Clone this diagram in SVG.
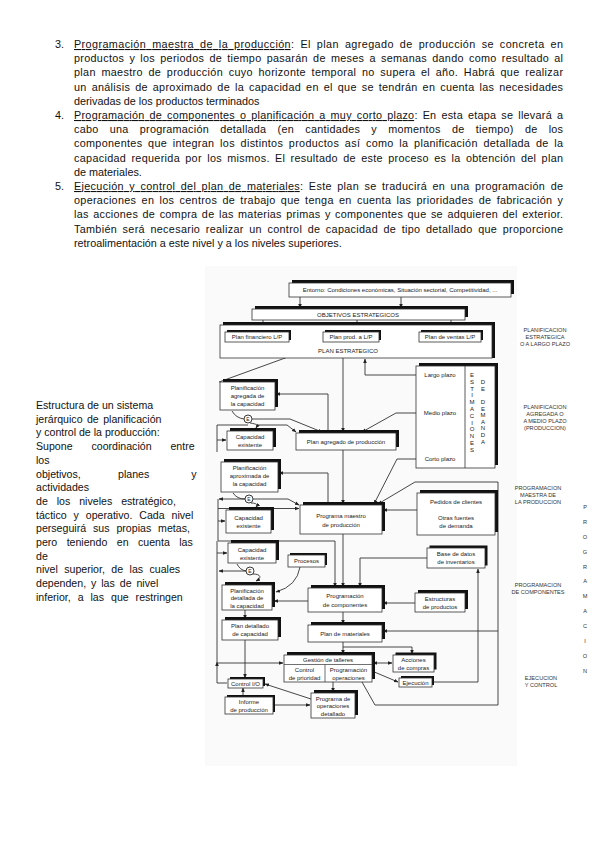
<svg xmlns="http://www.w3.org/2000/svg" width="599" height="848" viewBox="0 0 599 848">
<style>
.b{font-family:"Liberation Sans",Arial,sans-serif;font-size:10.8px;fill:#111}
.l{font-family:"Liberation Sans",Arial,sans-serif;font-size:10.6px;fill:#111}
.d{font-family:"Liberation Sans",Arial,sans-serif;font-size:6px;fill:#222;text-anchor:middle}
.r{font-family:"Liberation Sans",Arial,sans-serif;font-size:5.6px;fill:#333;text-anchor:middle}
.box{fill:#fff;stroke:#333;stroke-width:0.8}
.sh{fill:#111}
.ln{fill:none;stroke:#333;stroke-width:0.9}
.a{marker-end:url(#ah)}
.aa{marker-end:url(#ah);marker-start:url(#ah)}
</style>
<defs>
<marker id="ah" viewBox="0 0 10 10" refX="9" refY="5" markerWidth="4.5" markerHeight="4.5" markerUnits="userSpaceOnUse" orient="auto-start-reverse"><path d="M0,1 L10,5 L0,9z" fill="#222"/></marker>
</defs>
<rect width="599" height="848" fill="#fff"/>

<g id="texto-superior">
<text class="b" x="55" y="48">3.</text>
<text class="b" x="74" y="48" word-spacing="2.6" textLength="489" lengthAdjust="spacing"><tspan text-decoration="underline">Programación maestra de la producción</tspan>: El plan agregado de producción se concreta en</text>
<text class="b" x="74" y="62.2" word-spacing="1.9" textLength="489" lengthAdjust="spacing">productos y los periodos de tiempo pasarán de meses a semanas dando como resultado al</text>
<text class="b" x="74" y="76.4" word-spacing="2.3" textLength="489" lengthAdjust="spacing">plan maestro de producción cuyo horizonte temporal no supera el año. Habrá que realizar</text>
<text class="b" x="74" y="90.6" word-spacing="1.7" textLength="489" lengthAdjust="spacing">un análisis de aproximado de la capacidad en el que se tendrán en cuenta las necesidades</text>
<text class="b" x="74" y="104.8">derivadas de los productos terminados</text>
<text class="b" x="55" y="119">4.</text>
<text class="b" x="74" y="119" word-spacing="1.7" textLength="489" lengthAdjust="spacing"><tspan text-decoration="underline">Programación de componentes o planificación a muy corto plazo</tspan>: En esta etapa se llevará a</text>
<text class="b" x="74" y="133.2" word-spacing="8" textLength="489" lengthAdjust="spacing">cabo una programación detallada (en cantidades y momentos de tiempo) de los</text>
<text class="b" x="74" y="147.4" word-spacing="2.4" textLength="489" lengthAdjust="spacing">componentes que integran los distintos productos así como la planificación detallada de la</text>
<text class="b" x="74" y="161.6" word-spacing="2" textLength="489" lengthAdjust="spacing">capacidad requerida por los mismos. El resultado de este proceso es la obtención del plan</text>
<text class="b" x="74" y="175.8">de materiales.</text>
<text class="b" x="55" y="190">5.</text>
<text class="b" x="74" y="190" word-spacing="2.1" textLength="489" lengthAdjust="spacing"><tspan text-decoration="underline">Ejecución y control del plan de materiales</tspan>: Este plan se traducirá en una programación de</text>
<text class="b" x="74" y="204.2" word-spacing="2" textLength="489" lengthAdjust="spacing">operaciones en los centros de trabajo que tenga en cuenta las prioridades de fabricación y</text>
<text class="b" x="74" y="218.4" word-spacing="1.2" textLength="489" lengthAdjust="spacing">las acciones de compra de las materias primas y componentes que se adquieren del exterior.</text>
<text class="b" x="74" y="232.6" word-spacing="2.2" textLength="489" lengthAdjust="spacing">También será necesario realizar un control de capacidad de tipo detallado que proporcione</text>
<text class="b" x="74" y="246.8">retroalimentación a este nivel y a los niveles superiores.</text>
</g>

<g id="texto-izquierdo">
<text class="l" x="36" y="409">Estructura de un sistema</text>
<text class="l" x="36" y="422.7" word-spacing="1.5">jerárquico de planificación</text>
<text class="l" x="36" y="436.4">y control de la producción:</text>
<text class="l" x="36" y="450.1" word-spacing="16">Supone coordinación entre</text>
<text class="l" x="36" y="463.8">los</text>
<text class="l" x="36" y="477.5">objetivos,</text><text class="l" x="118" y="477.5">planes</text><text class="l" x="196.5" y="477.5" text-anchor="end">y</text>
<text class="l" x="36" y="491.2">actividades</text>
<text class="l" x="36" y="504.9" word-spacing="6">de los niveles estratégico,</text>
<text class="l" x="36" y="518.6" word-spacing="4">táctico y operativo. Cada nivel</text>
<text class="l" x="36" y="532.3" word-spacing="4">perseguirá sus propias metas,</text>
<text class="l" x="36" y="546" word-spacing="6.5">pero teniendo en cuenta las</text>
<text class="l" x="36" y="559.7">de</text>
<text class="l" x="36" y="573.4" word-spacing="3.5">nivel superior, de las cuales</text>
<text class="l" x="36" y="587.1" word-spacing="2">dependen, y las de nivel</text>
<text class="l" x="36" y="600.8" word-spacing="4">inferior, a las que restringen</text>
</g>

<rect x="205" y="266" width="312" height="500" fill="#fafafa"/>

<g id="conectores">
<path class="ln a" d="M300,297 V308"/>
<path class="ln a" d="M401,297 V308"/>
<path class="ln a" d="M263,320 V331"/>
<path class="ln a" d="M357,320 V331"/>
<path class="ln a" d="M451,320 V331"/>
<path class="ln a" d="M323,335.6 H290"/>
<path class="ln a" d="M290,339.4 H322"/>
<path class="ln a" d="M418,335.6 H380"/>
<path class="ln a" d="M380,339.4 H418"/>
<path class="ln a" d="M219,382 L321,345"/>
<path class="ln a" d="M416,375 H365 V359"/>
<path class="ln a" d="M343,358 V432"/>
<path class="ln a" d="M416,413 H396 L362,432"/>
<path class="ln a" d="M416,459 H397 L374,504"/>
<path class="ln a" d="M328,433 V394 H276"/>
<path class="ln" d="M232,411 Q236,418 244,419"/>
<path class="ln a" d="M252,419 H290 L322,432"/>
<path class="ln a" d="M250,423 C257,424 258,425 256,428"/>
<path class="ln a" d="M258,425 H287 L296,432"/>
<path class="ln" d="M248,425 H217 V452"/>
<path class="ln a" d="M217,440 H226"/>
<path class="ln a" d="M328,505 V473 H279"/>
<path class="ln a" d="M343,450 V504"/>
<path class="ln" d="M233,493 Q237,499 245,499"/>
<path class="ln a" d="M245,499 H219"/>
<path class="ln a" d="M253,499 H288 L299,505"/>
<path class="ln a" d="M251,503 C257,503 258,505 256,507"/>
<path class="ln" d="M218,499 V541 H335"/>
<path class="ln a" d="M218,508.5 H299"/>
<path class="ln a" d="M218,521 H225"/>
<path class="ln a" d="M335,541 V587"/>
<path class="ln a" d="M343,534 V587"/>
<path class="ln a" d="M427,558 H360 V587"/>
<path class="ln a" d="M417,510 H383"/>
<path class="ln a" d="M362,682 L375,705 H498 V482 H415 L378,504"/>
<path class="ln a" d="M498,631 H383"/>
<path class="ln a" d="M432,682 H478 V569"/>
<path class="ln a" d="M372,671 L398,682"/>
<path class="ln aa" d="M373,663 H392"/>
<path class="ln" d="M343,642 V647 H412"/>
<path class="ln a" d="M343,647 V654"/>
<path class="ln a" d="M412,647 V654"/>
<path class="ln a" d="M343,612 V624"/>
<path class="ln a" d="M308,601 H274"/>
<path class="ln a" d="M415,603 H383"/>
<path class="ln a" d="M300,567 Q297,586 276,592"/>
<path class="ln" d="M237,564 Q240,570 246,571"/>
<path class="ln a" d="M246,571 H219"/>
<path class="ln a" d="M253,574 C261,574 262,578 256,581"/>
<path class="ln" d="M217,662 V541"/>
<path class="ln a" d="M227,683 H217 V662"/>
<path class="ln a" d="M217,553 H227"/>
<path class="ln a" d="M217,663 H283"/>
<path class="ln a" d="M245,640 V678"/>
<path class="ln a" d="M245,610 V619"/>
<path class="ln a" d="M243,697 V688"/>
<path class="ln a" d="M273,705 H310"/>
<path class="ln a" d="M311,699 L265,684"/>
<path class="ln a" d="M333,682 V692"/>
</g>

<g id="e1"><circle cx="248" cy="419" r="4" fill="#fff" stroke="#222" stroke-width="0.9"/><text class="d" x="248" y="421" style="font-size:5px">E</text></g>
<g id="e2"><circle cx="249" cy="499" r="4" fill="#fff" stroke="#222" stroke-width="0.9"/><text class="d" x="249" y="501" style="font-size:5px">E</text></g>
<g id="e3"><circle cx="250" cy="571" r="4" fill="#fff" stroke="#222" stroke-width="0.9"/><text class="d" x="250" y="573" style="font-size:5px">E</text></g>

<g id="entorno"><rect class="sh" x="292" y="280" width="222" height="14"/><rect class="box" x="289" y="283" width="222" height="14"/><text class="d" x="400" y="292.3">Entorno: Condiciones económicas, Situación sectorial, Competitividad, ...</text></g>
<g id="objetivos"><rect class="sh" x="255" y="306" width="213" height="11"/><rect class="box" x="252" y="309" width="213" height="11"/><text class="d" x="358" y="316.7">OBJETIVOS ESTRATEGICOS</text></g>
<g id="plan-estrategico"><rect class="sh" x="223" y="322" width="272" height="36"/><rect class="box" x="220" y="325" width="272" height="33"/><text class="d" x="348" y="353">PLAN ESTRATEGICO</text></g>
<g id="plan-financiero"><rect class="sh" x="227" y="330" width="64" height="10"/><rect class="box" x="225" y="332" width="64" height="10"/><text class="d" x="257" y="339.2">Plan financiero L/P</text></g>
<g id="plan-prod"><rect class="sh" x="325" y="330" width="56" height="10"/><rect class="box" x="323" y="332" width="56" height="10"/><text class="d" x="351" y="339.2">Plan prod. a L/P</text></g>
<g id="plan-ventas"><rect class="sh" x="421" y="330" width="62" height="10"/><rect class="box" x="419" y="332" width="62" height="10"/><text class="d" x="450" y="339.2">Plan de ventas L/P</text></g>

<g id="estimaciones"><rect class="sh" x="419" y="363" width="79" height="102"/><rect class="box" x="416" y="366" width="79" height="102"/>
<line x1="465" y1="366" x2="465" y2="468" stroke="#333" stroke-width="0.8"/>
<text class="d" x="440" y="377">Largo plazo</text><text class="d" x="440" y="415">Medio plazo</text><text class="d" x="440" y="461">Corto plazo</text>
<text class="d" x="472" y="377">E</text><text class="d" x="472" y="383.8">S</text><text class="d" x="472" y="390.6">T</text><text class="d" x="472" y="397.4">I</text><text class="d" x="472" y="404.2">M</text><text class="d" x="472" y="411">A</text><text class="d" x="472" y="417.8">C</text><text class="d" x="472" y="424.6">I</text><text class="d" x="472" y="431.4">O</text><text class="d" x="472" y="438.2">N</text><text class="d" x="472" y="445">E</text><text class="d" x="472" y="451.8">S</text>
<text class="d" x="483" y="384">D</text><text class="d" x="483" y="390.6">E</text><text class="d" x="483" y="404">D</text><text class="d" x="483" y="410.6">E</text><text class="d" x="483" y="417.2">M</text><text class="d" x="483" y="423.8">A</text><text class="d" x="483" y="430.4">N</text><text class="d" x="483" y="437">D</text><text class="d" x="483" y="443.6">A</text>
</g>

<g id="planif-agregada"><rect class="sh" x="223" y="379" width="55" height="28"/><rect class="box" x="220" y="382" width="55" height="28"/><text class="d" x="247.5" y="390">Planificación</text><text class="d" x="247.5" y="398">agregada de</text><text class="d" x="247.5" y="406">la capacidad</text></g>
<g id="plan-agregado"><rect class="sh" x="299" y="430" width="100" height="17"/><rect class="box" x="296" y="433" width="100" height="17"/><text class="d" x="346" y="443.8">Plan agregado de producción</text></g>
<g id="cap-existente-1"><rect class="sh" x="230" y="428" width="46" height="19"/><rect class="box" x="227" y="431" width="46" height="19"/><text class="d" x="250" y="439">Capacidad</text><text class="d" x="250" y="447">existente</text></g>
<g id="planif-aproximada"><rect class="sh" x="224" y="459" width="57" height="30"/><rect class="box" x="221" y="462" width="57" height="30"/><text class="d" x="249.5" y="470">Planificación</text><text class="d" x="249.5" y="478">aproximada de</text><text class="d" x="249.5" y="486">la capacidad</text></g>
<g id="cap-existente-2"><rect class="sh" x="229" y="507" width="45" height="23"/><rect class="box" x="226" y="510" width="45" height="23"/><text class="d" x="248.5" y="519.5">Capacidad</text><text class="d" x="248.5" y="528">existente</text></g>
<g id="programa-maestro"><rect class="sh" x="303" y="502" width="82" height="29"/><rect class="box" x="300" y="505" width="82" height="29"/><text class="d" x="341" y="518">Programa maestro</text><text class="d" x="341" y="526.5">de producción</text></g>
<g id="pedidos"><rect class="sh" x="420" y="490" width="78" height="42"/><rect class="box" x="417" y="493" width="78" height="42"/><text class="d" x="456" y="504">Pedidos de clientes</text><text class="d" x="456" y="520">Otras fuentes</text><text class="d" x="456" y="528">de demanda</text></g>
<g id="base-datos"><rect class="sh" x="429.5" y="545.5" width="58" height="20"/><rect class="box" x="427" y="548" width="58" height="20"/><text class="d" x="456" y="556">Base de datos</text><text class="d" x="456" y="564">de inventarios</text></g>
<g id="procesos"><rect class="sh" x="290" y="553" width="37" height="12"/><rect class="box" x="288" y="555" width="37" height="12"/><text class="d" x="306.5" y="563">Procesos</text></g>
<g id="cap-existente-3"><rect class="sh" x="231" y="540" width="48" height="20"/><rect class="box" x="228" y="543" width="48" height="20"/><text class="d" x="252" y="551.5">Capacidad</text><text class="d" x="252" y="559.5">existente</text></g>
<g id="planif-detallada"><rect class="sh" x="225" y="582" width="50" height="25"/><rect class="box" x="222" y="585" width="50" height="25"/><text class="d" x="247" y="592.5">Planificación</text><text class="d" x="247" y="600">detallada de</text><text class="d" x="247" y="607.5">la capacidad</text></g>
<g id="programacion-componentes"><rect class="sh" x="311" y="585" width="74" height="24"/><rect class="box" x="308" y="588" width="74" height="24"/><text class="d" x="345" y="598">Programación</text><text class="d" x="345" y="607">de componentes</text></g>
<g id="estructuras"><rect class="sh" x="418" y="590" width="50" height="19"/><rect class="box" x="415" y="593" width="50" height="19"/><text class="d" x="440" y="601">Estructuras</text><text class="d" x="440" y="609">de productos</text></g>
<g id="plan-detallado"><rect class="sh" x="225" y="617" width="56" height="20"/><rect class="box" x="222" y="620" width="56" height="20"/><text class="d" x="250" y="628">Plan detallado</text><text class="d" x="250" y="636">de capacidad</text></g>
<g id="plan-materiales"><rect class="sh" x="311" y="622" width="74" height="17"/><rect class="box" x="308" y="625" width="74" height="17"/><text class="d" x="345" y="635.5">Plan de materiales</text></g>
<g id="gestion-talleres"><rect class="sh" x="287" y="652" width="88" height="27"/><rect class="box" x="284" y="655" width="88" height="27"/>
<line x1="284" y1="664.5" x2="372" y2="664.5" stroke="#333" stroke-width="0.7"/><line x1="325" y1="664.5" x2="325" y2="682" stroke="#333" stroke-width="0.7"/>
<text class="d" x="328" y="662">Gestión de talleres</text><text class="d" x="304.5" y="671.5">Control</text><text class="d" x="304.5" y="679.5">de prioridad</text><text class="d" x="348.5" y="671.5">Programación</text><text class="d" x="348.5" y="679.5">operaciones</text></g>
<g id="acciones-compras"><rect class="sh" x="395.5" y="652.5" width="41" height="17"/><rect class="box" x="393" y="655" width="41" height="17"/><text class="d" x="413.5" y="662">Acciones</text><text class="d" x="413.5" y="670">de compras</text></g>
<g id="ejecucion"><rect class="sh" x="401" y="676" width="33" height="9"/><rect class="box" x="399" y="678" width="33" height="9"/><text class="d" x="415.5" y="685">Ejecución</text></g>
<g id="control-io"><rect class="sh" x="230" y="677" width="35" height="9"/><rect class="box" x="228" y="679" width="35" height="9"/><text class="d" x="245.5" y="686">Control I/O</text></g>
<g id="informe"><rect class="sh" x="227" y="695" width="48" height="17"/><rect class="box" x="225" y="697" width="48" height="17"/><text class="d" x="249" y="704">Informe</text><text class="d" x="249" y="712">de producción</text></g>
<g id="programa-operaciones"><rect class="sh" x="314" y="690" width="44" height="25"/><rect class="box" x="311" y="693" width="44" height="25"/><text class="d" x="333" y="700.5">Programa de</text><text class="d" x="333" y="708">operaciones</text><text class="d" x="333" y="715.5">detallado</text></g>

<g id="niveles">
<text class="r" x="545" y="332">PLANIFICACION</text><text class="r" x="545" y="339">ESTRATEGICA</text><text class="r" x="545" y="346">O A LARGO PLAZO</text>
<text class="r" x="545" y="409">PLANIFICACION</text><text class="r" x="545" y="416">AGREGADA O</text><text class="r" x="545" y="423">A MEDIO PLAZO</text><text class="r" x="545" y="430">(PRODUCCION)</text>
<text class="r" x="538" y="490">PROGRAMACION</text><text class="r" x="538" y="497">MAESTRA DE</text><text class="r" x="538" y="504">LA PRODUCCION</text>
<text class="r" x="538" y="587">PROGRAMACION</text><text class="r" x="538" y="594">DE COMPONENTES</text>
<text class="r" x="541" y="680">EJECUCION</text><text class="r" x="541" y="687">Y CONTROL</text>
<text class="r" x="585" y="509">P</text><text class="r" x="585" y="524">R</text><text class="r" x="585" y="539">O</text><text class="r" x="585" y="554">G</text><text class="r" x="585" y="569">R</text><text class="r" x="585" y="583">A</text><text class="r" x="585" y="598">M</text><text class="r" x="585" y="613">A</text><text class="r" x="585" y="628">C</text><text class="r" x="585" y="643">I</text><text class="r" x="585" y="658">O</text><text class="r" x="585" y="673">N</text>
</g>
</svg>
